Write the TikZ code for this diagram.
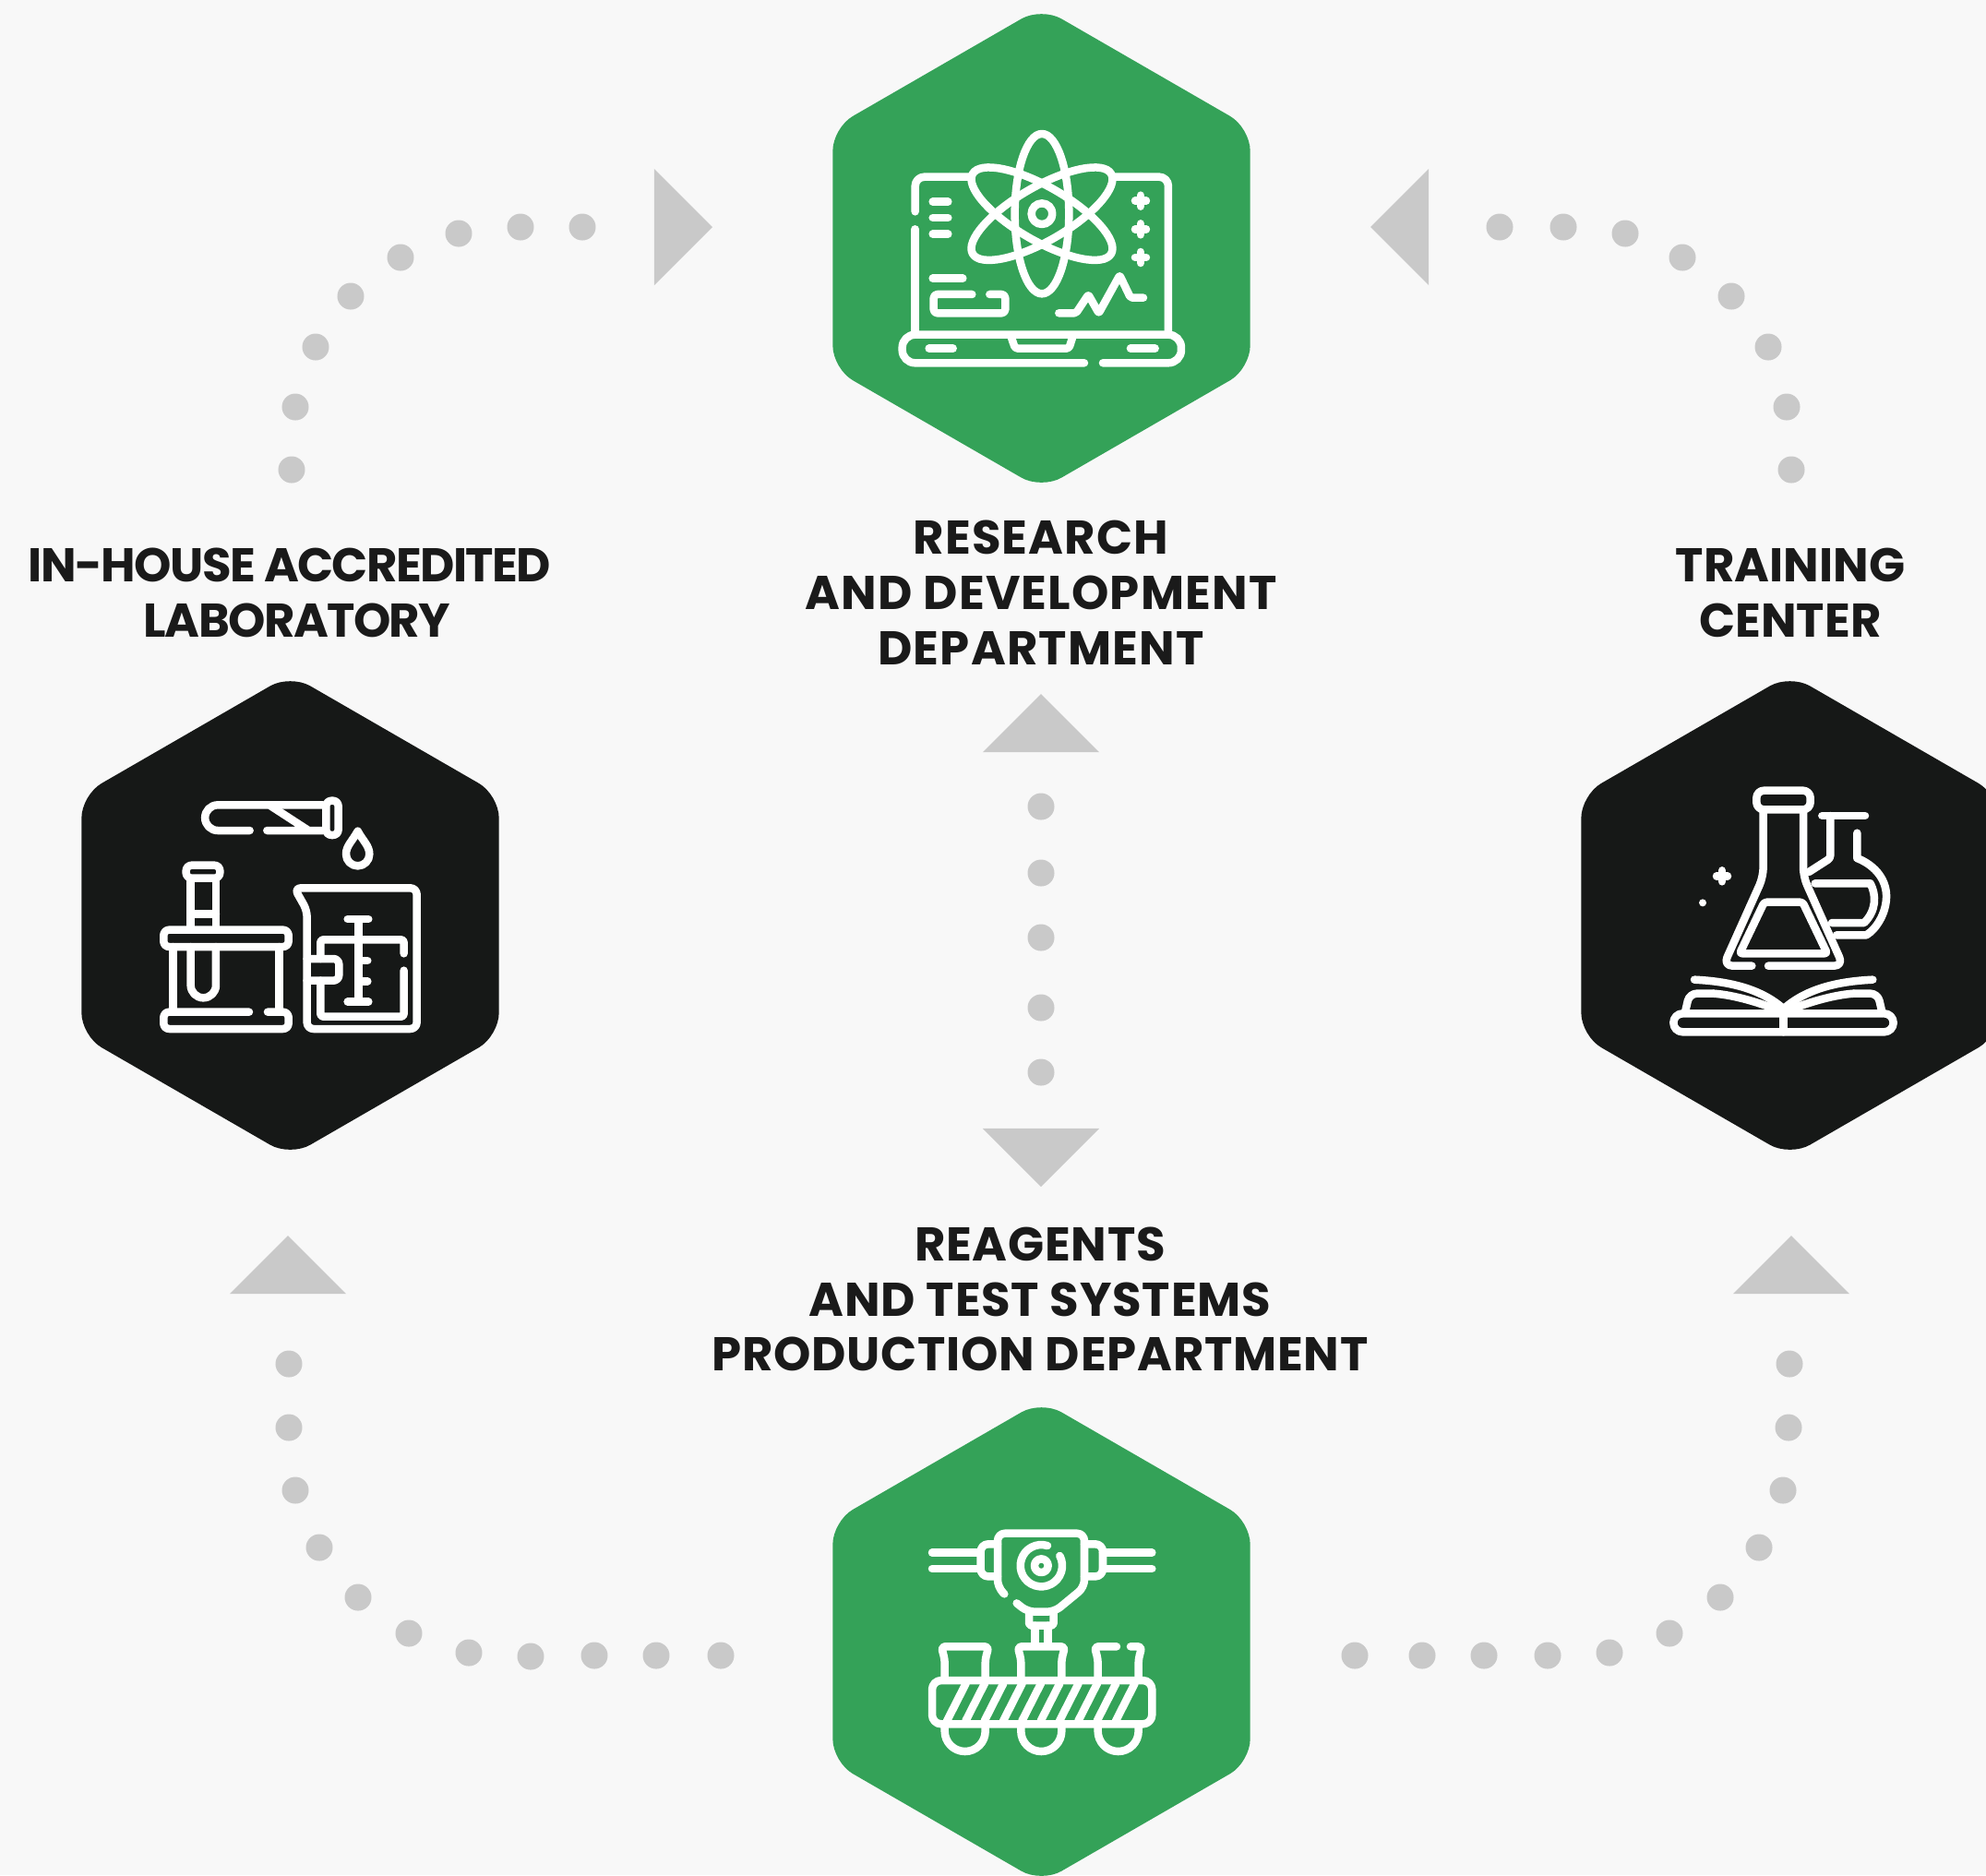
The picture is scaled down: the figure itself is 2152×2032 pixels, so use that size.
\documentclass[tikz,border=0pt]{standalone}
\usepackage{fontspec}
\setmainfont{Poppins}
\usepackage{xcolor}
\usetikzlibrary{shapes}
\usetikzlibrary{shapes.geometric}

\definecolor{pagebg}{HTML}{F8F8F8}
\definecolor{hexgreen}{HTML}{34A258}
\definecolor{hexblack}{HTML}{161817}
\definecolor{dotgrey}{HTML}{C9C9C9}
\definecolor{labelink}{HTML}{1A1A1A}

\begin{document}
\begin{tikzpicture}[x=0.01cm, y=-0.01cm,
    hex/.style={regular polygon, regular polygon sides=6, shape border rotate=30,
      minimum size=5.22cm, inner sep=0pt, outer sep=0pt, rounded corners=0.25cm},
    deptlabel/.style={align=center, text=labelink, inner sep=0pt,
      font=\fontsize{14.6}{17}\selectfont\bfseries\addfontfeature{LetterSpace=#1}},
    dot/.style={circle, fill=dotgrey, minimum size=0.29cm, inner sep=0pt, outer sep=0pt},
    tip/.style={isosceles triangle, isosceles triangle apex angle=90, fill=dotgrey,
      minimum height=0.63cm, minimum width=1.26cm, inner sep=0pt, outer sep=0pt, anchor=apex},
    iconline/.style={draw=white, line width=0.085cm, line cap=round, line join=round, rounded corners=0.06cm}]

  \useasboundingbox (0,0) rectangle (2152,2032);
  \clip (0,0) rectangle (2152,2032);
  \fill[pagebg] (0,0) rectangle (2152,2032);

  \node[hex, fill=hexgreen] (RD) at (1128.5,269) {};
  \node[hex, fill=hexblack] (LAB) at (314.5,992) {};
  \node[hex, fill=hexblack] (TC) at (1939.5,992) {};
  \node[hex, fill=hexgreen] (PROD) at (1128.5,1779) {};

  \node[deptlabel=2.3] (RDtext) at (1128,642) {RESEARCH\\AND DEVELOPMENT\\DEPARTMENT};
  \node[deptlabel=-3.1] (LABtext) at (314,642) {IN-HOUSE ACCREDITED\\\hspace*{0.16cm}LABORATORY};
  \node[deptlabel=0] (TCtext) at (1940,642) {TRAINING\\CENTER};
  \node[deptlabel=1.5] (PRODtext) at (1127,1408) {REAGENTS\\AND TEST SYSTEMS\\PRODUCTION DEPARTMENT};

  \foreach \x/\y [count=\i] in {631/246,564/246,497/253,434/279,380/321,342/376,320/441,316/509} {
    \node[dot] (A\i) at (\x,\y) {};
  }
  \foreach \x/\y [count=\i] in {1625/246,1694/246,1761/253,1823/279,1876/321,1916/376,1936/441,1941/509} {
    \node[dot] (B\i) at (\x,\y) {};
  }
  \foreach \y [count=\i] in {874,946,1016,1092,1162} {
    \node[dot] (C\i) at (1128,\y) {};
  }
  \foreach \x/\y [count=\i] in {313/1478,313/1547,320/1615,346/1677,388/1731,443/1770,508/1791,575/1795,644/1794,711/1794,781/1794} {
    \node[dot] (D\i) at (\x,\y) {};
  }
  \foreach \x/\y [count=\i] in {1939/1478,1938/1547,1932/1615,1906/1677,1864/1731,1809/1770,1744/1791,1677/1794,1608/1794,1541/1794,1468/1794} {
    \node[dot] (E\i) at (\x,\y) {};
  }

  \node[tip, shape border rotate=0] (tipA) at (772,246) {};
  \node[tip, shape border rotate=180] (tipB) at (1485,246) {};
  \node[tip, shape border rotate=90] (tipCup) at (1128,752) {};
  \node[tip, shape border rotate=270] (tipCdown) at (1128,1286) {};
  \node[tip, shape border rotate=90] (tipD) at (312,1339) {};
  \node[tip, shape border rotate=90] (tipE) at (1941,1339) {};

  % laptop and atom
  \begin{scope}[shift={(940,110)}, scale=0.3333]
    \draw[iconline, rounded corners=0.1cm] (155,358) -- (155,245) -- (330,245);
    \draw[iconline, rounded corners=0.1cm] (805,245) -- (978,245) -- (978,755);
    \draw[iconline] (155,415) -- (155,755);
    \draw[iconline, rounded corners=0.14cm] (705,850) -- (113,850) -- (113,758) -- (1020,758) -- (1020,850) -- (765,850);
    \draw[iconline, rounded corners=0.03cm] (467,765) -- (480,803) -- (655,803) -- (667,765);
    \draw[iconline] (200,803) -- (278,803) (855,803) -- (935,803);
    \foreach \a in {0,60,-60} {
      \draw[iconline] (567,365) ellipse [x radius=88, y radius=260, rotate=\a];
    }
    \draw[iconline] (567,365) circle (34);
    \foreach \y in {326,378,431} {
      \draw[iconline] (212,\y) -- (262,\y);
    }
    \foreach \y in {323,415,507} {
      \draw[iconline] (870,\y) -- (906,\y) (888,\y-18) -- (888,\y+18);
    }
    \draw[iconline] (212,575) -- (310,575);
    \draw[iconline, rounded corners=0.04cm] (340,627) -- (215,627) -- (215,688) -- (448,688) -- (448,627) -- (397,627);
    \draw[iconline, rounded corners=0.02cm] (622,688) -- (678,688) -- (718,628) -- (752,688) -- (820,565) -- (855,638) -- (897,638);
  \end{scope}

  % tube, stand and beaker
  \begin{scope}[shift={(150,840)}, scale=0.3333]
    \draw[iconline, sharp corners] (362,180) -- (258,180) arc[start angle=90, end angle=270, radius=41.5] -- (600,97);
    \draw[iconline] (418,180) -- (600,180) (430,100) -- (550,178);
    \draw[iconline] (610,83) -- (650,83) -- (650,195) -- (610,195) -- cycle;
    \draw[iconline, sharp corners] (713,182) .. controls (695,215) and (675,230) .. (675,257) arc[start angle=180, end angle=0, radius=38] .. controls (751,230) and (731,215) .. (713,182) -- cycle;
    \draw[iconline] (82,503) rectangle (488,558);
    \draw[iconline] (113,558) -- (113,768) (458,558) -- (458,768);
    \draw[iconline] (360,770) -- (82,770) -- (82,825) -- (488,825) -- (488,770) -- (420,770);
    \draw[iconline] (155,293) rectangle (265,335);
    \draw[iconline] (170,335) -- (170,503) (252,335) -- (252,503) (170,452) -- (252,452);
    \draw[iconline, sharp corners] (170,558) -- (170,683) arc[start angle=180, end angle=0, radius=41] -- (252,558);
    \draw[iconline, rounded corners=0.07cm] (507,367) -- (905,367) -- (905,825) -- (548,825) -- (548,440) -- cycle;
    \draw[iconline, rounded corners=0.03cm] (863,580) -- (863,535) -- (592,535) -- (592,597) (592,668) -- (592,785) -- (863,785) -- (863,635);
    \draw[iconline, rounded corners=0.06cm] (548,597) -- (652,597) -- (652,668) -- (548,668);
    \draw[iconline] (715,470) -- (715,735) (680,468) -- (748,468) (680,737) -- (748,737) (715,603) -- (745,603) (715,670) -- (745,670);
  \end{scope}

  % flasks and book
  \begin{scope}[shift={(1790,830)}, scale=0.3333]
    \draw[iconline, rounded corners=0.08cm] (340,80) rectangle (515,142);
    \draw[iconline, rounded corners=0.1cm] (325,650) -- (232,650) -- (362,360) -- (362,142);
    \draw[iconline, rounded corners=0.1cm] (378,650) -- (622,650) -- (492,360) -- (492,142);
    \draw[iconline, rounded corners=0.03cm] (365,443) -- (490,443) -- (570,610) -- (285,610) -- cycle;
    \draw[iconline] (553,162) -- (693,162);
    \draw[iconline, rounded corners=0.03cm] (580,162) -- (580,300) -- (510,345);
    \draw[iconline, sharp corners] (667,218) -- (667,300) .. controls (730,325) and (765,375) .. (762,430) .. controls (760,480) and (730,530) .. (697,550) -- (600,550);
    \draw[iconline, sharp corners] (530,382) -- (710,382) .. controls (730,420) and (730,470) .. (690,510) -- (585,510);
    \draw[iconline] (210,358) -- (246,358) (228,340) -- (228,376);
    \fill[white] (165,445) circle (12);
    \draw[iconline, sharp corners] (138,695) .. controls (240,700) and (350,720) .. (428,790) .. controls (506,720) and (616,700) .. (718,695);
    \draw[iconline, rounded corners=0.08cm] (108,800) -- (122,740) -- (200,740);
    \draw[iconline, sharp corners] (200,740) .. controls (270,745) and (350,770) .. (428,800) .. controls (506,770) and (586,745) .. (656,740);
    \draw[iconline, rounded corners=0.08cm] (656,740) -- (734,740) -- (748,800);
    \draw[iconline, rounded corners=0.1cm] (70,805) rectangle (785,865);
    \draw[iconline] (428,790) -- (428,865);
  \end{scope}

  % nozzle and vials
  \begin{scope}[shift={(980,1640)}, scale=0.3333]
    \draw[iconline, rounded corners=0.08cm] (325,262) -- (303,240) -- (303,65) -- (585,65) -- (585,240) -- (488,320) -- (400,320) -- (365,292);
    \draw[iconline, rounded corners=0.08cm] (303,100) -- (248,100) -- (248,205) -- (303,205);
    \draw[iconline, rounded corners=0.08cm] (585,100) -- (645,100) -- (645,205) -- (585,205);
    \draw[iconline] (90,128) -- (248,128) (90,180) -- (248,180) (645,128) -- (805,128) (645,180) -- (805,180);
    \draw[iconline] (445,170) circle (22);
    \draw[iconline] (465,105) arc[start angle=-73, end angle=-388, radius=68];
    \draw[iconline, rounded corners=0.03cm] (405,322) -- (405,365) -- (485,365) -- (485,322);
    \draw[iconline, sharp corners] (425,365) -- (425,430) (467,365) -- (467,430);
    \foreach \c in {197,445} {
      \draw[iconline, rounded corners=0.04cm] (\c-66,540) -- (\c-66,475) -- (\c-77,433) -- (\c+77,433) -- (\c+66,475) -- (\c+66,540);
    }
    \draw[iconline, rounded corners=0.04cm] (629,540) -- (629,475) -- (618,433) -- (690,433);
    \draw[iconline, rounded corners=0.04cm] (735,433) -- (772,433) -- (761,475) -- (761,540);
    \foreach \c in {197,445,695} {
      \draw[iconline, sharp corners] (\c-66,690) -- (\c-66,708) arc[start angle=180, end angle=0, radius=66] -- (\c+66,690);
    }
    \draw[iconline, rounded corners=0.1cm] (90,543) rectangle (805,685);
    \foreach \x in {200,261,322,383,444,505,566,627,688,749} {
      \draw[iconline, sharp corners] (\x,553) -- (\x-62,675);
    }
  \end{scope}

\end{tikzpicture}
\end{document}
